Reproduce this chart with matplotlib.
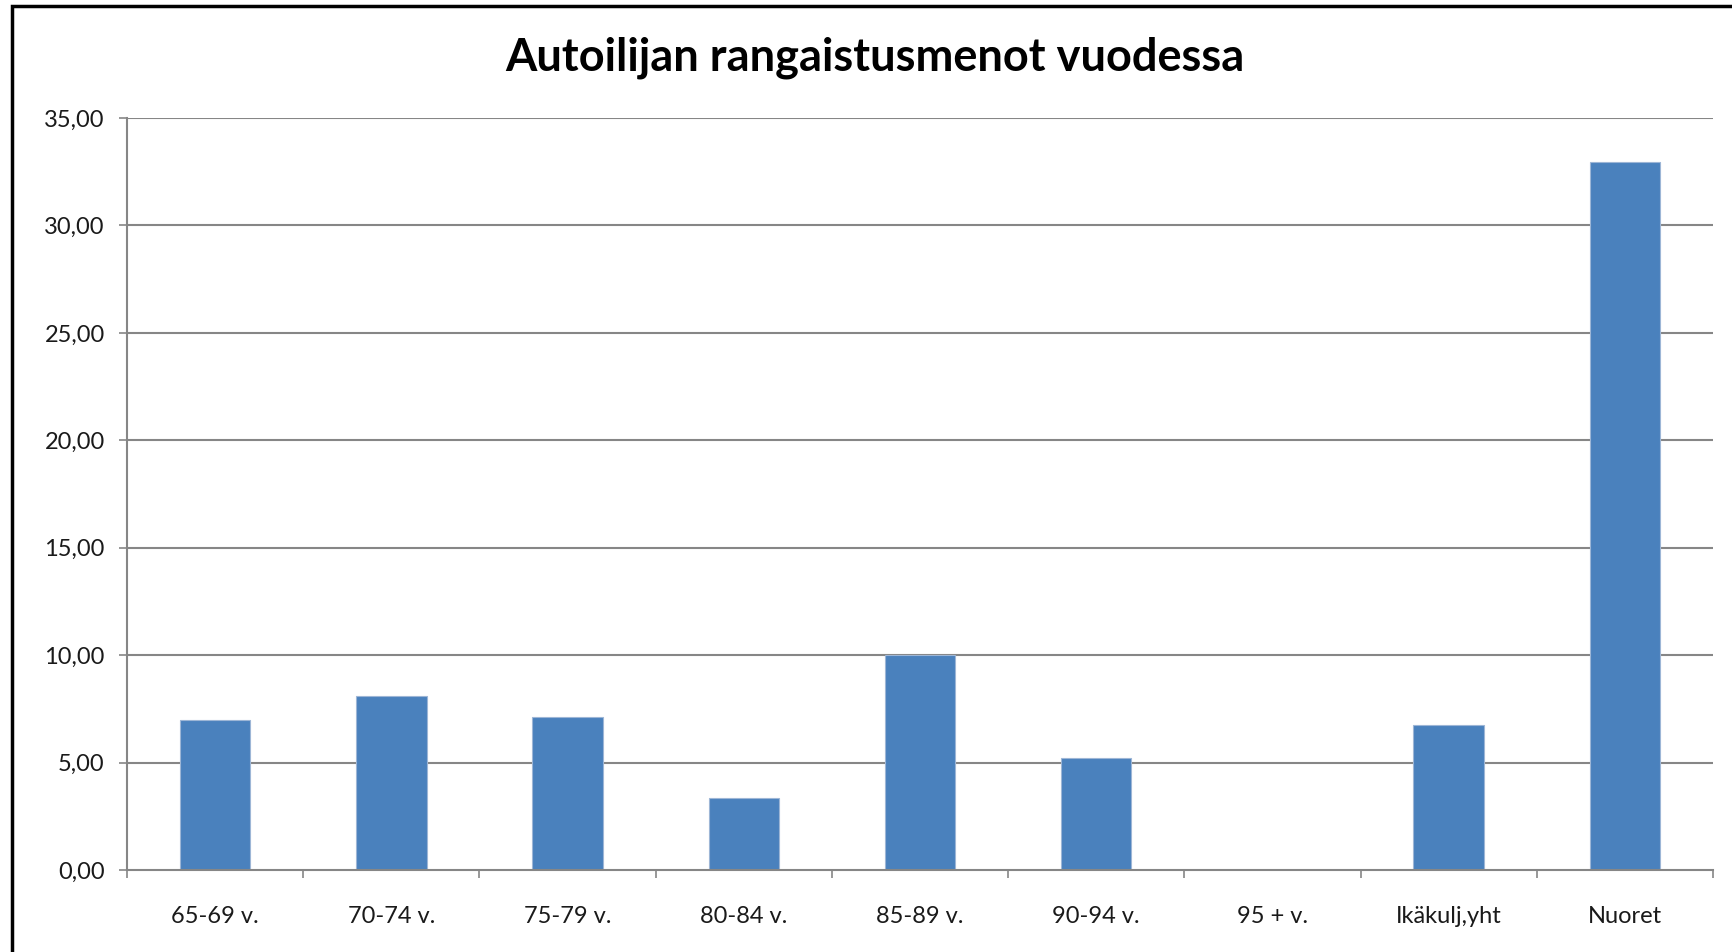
import matplotlib
matplotlib.use("Agg")
import matplotlib.pyplot as plt
from matplotlib.patches import Rectangle
import numpy as np

categories = ["65-69 v.", "70-74 v.", "75-79 v.", "80-84 v.", "85-89 v.",
              "90-94 v.", "95 + v.", "Ikäkulj,yht", "Nuoret"]
values = [7.00, 8.12, 7.11, 3.35, 10.01, 5.21, 0.0, 6.75, 32.93]
yticks = [0, 5, 10, 15, 20, 25, 30, 35]
ytick_labels = ["0,00", "5,00", "10,00", "15,00", "20,00", "25,00", "30,00", "35,00"]
title = "Autoilijan rangaistusmenot vuodessa"

W, H = 1733, 952
fig = plt.figure(figsize=(W / 100, H / 100), dpi=100)
plt.rcParams['font.family'] = ['Lato', 'DejaVu Sans']

ax = fig.add_axes([127 / W, 1 - 870 / H, (1713 - 127) / W, (870 - 118) / H])

x = np.arange(len(categories))
grid_c = "#868686"
for t in yticks[1:]:
    ax.axhline(t, color=grid_c, lw=1.5, zorder=1)
ax.bar(x, values, width=0.4, color="#4A81BD", edgecolor="#9DB6D6", linewidth=0.8, zorder=2)

ax.set_xlim(-0.5, len(categories) - 0.5)
ax.set_ylim(0, 35)

for s in ["top", "right"]:
    ax.spines[s].set_visible(False)
for s in ["left", "bottom"]:
    ax.spines[s].set_color(grid_c)
    ax.spines[s].set_linewidth(1.5)

ax.set_yticks(yticks)
ax.set_yticklabels(ytick_labels, fontsize=17, color="#1a1a1a")
ax.tick_params(axis="y", length=6, width=1.2, color=grid_c, pad=10)

ax.set_xticks(x)
ax.set_xticklabels(categories, fontsize=17, color="#1a1a1a")
ax.set_xticks(np.arange(len(categories) + 1) - 0.5, minor=True)
ax.tick_params(axis="x", which="major", length=0, pad=26)
ax.tick_params(axis="x", which="minor", length=6, width=1.2, color=grid_c)

fig.text(875 / W, 1 - 58 / H, title, ha="center", va="center",
         fontsize=32.5, fontweight="bold", color="black")

fig.patches.append(Rectangle((12 / W, -0.1), 1.2, 1.1 - 6 / H, transform=fig.transFigure,
                             fill=False, edgecolor="black", linewidth=2.5, zorder=10))

fig.savefig("out.png", dpi=100)
